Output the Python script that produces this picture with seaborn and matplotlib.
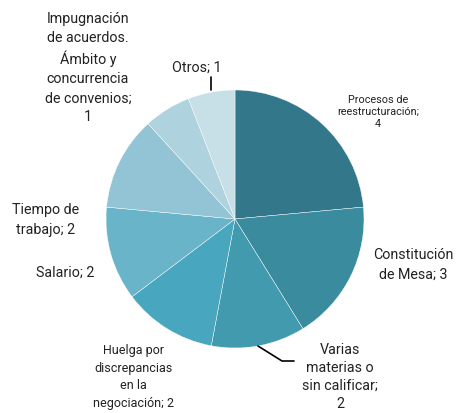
import numpy as np
import seaborn as sns
import matplotlib.pyplot as plt

sns.set_style('white')
plt.rcParams['font.family'] = ['Roboto', 'DejaVu Sans']

# data, clockwise from the top
labels = ['Procesos de\nreestructuración;\n4',
          'Constitución\nde Mesa; 3',
          'Varias\nmaterias o\nsin calificar;\n2',
          'Huelga por\ndiscrepancias\nen la\nnegociación; 2',
          'Salario; 2',
          'Tiempo de\ntrabajo; 2',
          'Impugnación\nde acuerdos.\nÁmbito y\nconcurrencia\nde convenios;\n1',
          'Otros; 1']
values = [4, 3, 2, 2, 2, 2, 1, 1]
colors = ['#32788a', '#3a8b9e', '#419aae', '#49a6bf', '#69b4c9', '#93c4d5', '#aed2de', '#c7dfe7']

# label centres in pixels (x, y from top)
label_px = [(378, 112), (413, 265), (340, 377), (133, 377), (65, 273), (46, 220), (88, 68), (197, 68)]
label_size = [7.8, 10.3, 10.3, 9, 10.3, 10.3, 10.3, 10.3]
label_spacing = [1.3, 1.5, 1.38, 1.45, 1.5, 1.5, 1.45, 1.5]

W, H = 459, 414
cx, cy, R = 235, 220, 129

fig = plt.figure(figsize=(W / 100, H / 100), dpi=100)
ax = fig.add_axes([(cx - R) / W, (H - cy - R) / H, 2 * R / W, 2 * R / H])
ax.pie(values, colors=colors, startangle=90, counterclock=False, radius=1,
       wedgeprops=dict(edgecolor='white', linewidth=0.3))
ax.set_xlim(-1, 1)
ax.set_ylim(-1, 1)
ax.axis('off')

def to_data(px, py):
    return (px - cx) / R, (cy - py) / R

for lab, (px, py), fs, ls in zip(labels, label_px, label_size, label_spacing):
    x, y = to_data(px, py)
    ax.text(x, y, lab, ha='center', va='center', fontsize=fs, color='#222222',
            linespacing=ls, clip_on=False)

# leader lines
x0, y0 = to_data(211, 78)
x1, y1 = to_data(211, 91)
ax.plot([x0, x1], [y0, y1], color='black', lw=1.2, clip_on=False)
p = [to_data(258, 347), to_data(282, 362), to_data(294, 362)]
ax.plot([q[0] for q in p], [q[1] for q in p], color='black', lw=1.2, clip_on=False)

fig.savefig('out.png', dpi=100, facecolor='white')
